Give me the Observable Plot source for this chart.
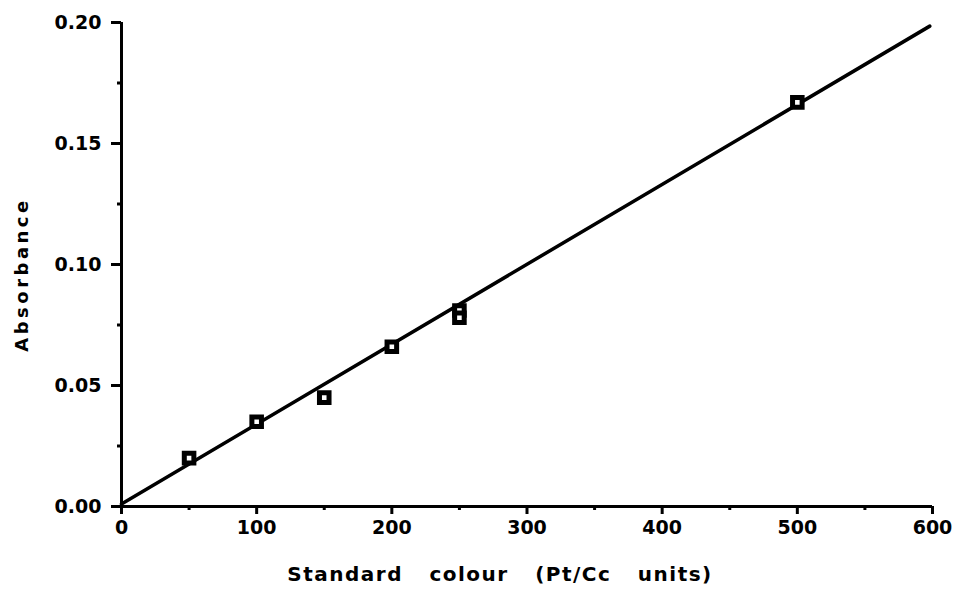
<!DOCTYPE html>
<html>
<head>
<meta charset="utf-8">
<script src="https://cdn.jsdelivr.net/npm/d3@7"></script>
<script src="https://cdn.jsdelivr.net/npm/@observablehq/plot@0.6"></script>
<style>
  html, body { margin: 0; padding: 0; background: #fff; }
  #chart svg { display: block; }
</style>
</head>
<body>
<div id="chart"></div>
<script>
// Calibration standards: colour (Pt/Co units) vs absorbance
const colour = [50, 100, 150, 200, 250, 250, 500];
const absorbance = [0.020, 0.035, 0.045, 0.066, 0.081, 0.078, 0.167];

// Fitted calibration line (end points)
const fitColour = [0, 598];
const fitAbsorbance = [0.001, 0.1985];

// Axis ticks
const xMajor = [0, 100, 200, 300, 400, 500, 600];
const xMinor = [50, 150, 250, 350, 450, 550];
const yMajor = [0, 0.05, 0.10, 0.15, 0.20];
const yMinor = [0.025, 0.075, 0.125, 0.175];

const xTitle = "Standard colour (Pt/Cc units)";
const yTitle = "Absorbance";

const points = colour.map((c, i) => ({c, a: absorbance[i]}));
const fit = fitColour.map((c, i) => ({c, a: fitAbsorbance[i]}));

const font = "DejaVu Sans, Liberation Sans, Arial, sans-serif";

const chart = Plot.plot({
  width: 962,
  height: 589,
  marginLeft: 121,
  marginRight: 30,
  marginTop: 22,
  marginBottom: 83,
  style: {fontFamily: font, color: "#000", background: "#fff"},
  x: {domain: [0, 600]},
  y: {domain: [0, 0.2]},
  marks: [
    Plot.axisX({ticks: xMajor, tickSize: 8, tickPadding: 6,
      fontSize: 19, fontWeight: "bold", fontFamily: font, label: null, tickFormat: d3.format("d")}),
    Plot.axisX({ticks: xMinor, tickSize: 4, tickFormat: () => "", label: null}),
    Plot.axisY({ticks: yMajor, tickSize: 10, tickPadding: 10,
      fontSize: 19, fontWeight: "bold", fontFamily: font, label: null, tickFormat: d3.format(".2f")}),
    Plot.axisY({ticks: yMinor, tickSize: 4, tickFormat: () => "", label: null}),
    Plot.ruleX([0], {y1: 0, y2: 0.2, strokeWidth: 3}),
    Plot.ruleY([0], {x1: 0, x2: 600, strokeWidth: 3}),
    Plot.line(fit, {x: "c", y: "a", stroke: "#000", strokeWidth: 3.5}),
    Plot.dot(points, {x: "c", y: "a", symbol: "square", r: 5.4, stroke: "#000", strokeWidth: 5, fill: "#fff"}),
    Plot.text([xTitle], {frameAnchor: "bottom", text: d => d, dx: -27, dy: 74,
      fontSize: 20, fontWeight: "bold", fontFamily: font}),
    Plot.text([yTitle], {frameAnchor: "left", textAnchor: "middle", text: d => d, rotate: -90, dx: -99, dy: 10,
      fontSize: 18, fontWeight: "bold", fontFamily: font})
  ]
});

// Heavier tick strokes
d3.select(chart).selectAll('g[aria-label$="tick"]').attr("stroke-width", 3);

// Wide lettering on the axis titles
d3.select(chart).selectAll("text")
  .filter(function() { return this.textContent === xTitle; })
  .style("letter-spacing", "1.5px").style("word-spacing", "18px");
d3.select(chart).selectAll("text")
  .filter(function() { return this.textContent === yTitle; })
  .style("letter-spacing", "3.5px");

document.getElementById("chart").append(chart);
</script>
</body>
</html>
